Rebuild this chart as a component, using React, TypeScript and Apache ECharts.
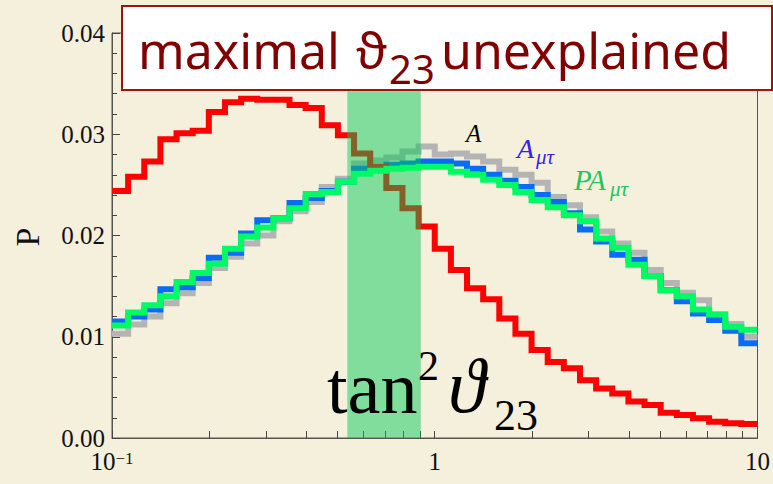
import React, { useEffect, useRef } from 'react';
import * as echarts from 'echarts';

// 40 logarithmic bins from 0.1 to 10 (0.05 decades each)
const binEdges: number[] = Array.from({ length: 41 }, (_, k) => Math.pow(10, -1 + k * 0.05));

const redP = [0.0244, 0.0258, 0.0273, 0.0295, 0.0301, 0.03035, 0.0322, 0.03315, 0.0335, 0.0334,
  0.0334, 0.0329, 0.0326, 0.0309, 0.0299, 0.0281, 0.0268, 0.0247, 0.0227, 0.0209,
  0.0187, 0.0166, 0.0148, 0.0137, 0.0118, 0.0103, 0.0087, 0.0075, 0.0069, 0.0057,
  0.0049, 0.0044, 0.0036, 0.00326, 0.0025, 0.00227, 0.00194, 0.0016, 0.00145, 0.00138];

const grayA = [0.0103, 0.0112, 0.0120, 0.0133, 0.0143, 0.0153, 0.0168, 0.0179, 0.0192, 0.0200,
  0.0214, 0.0224, 0.0233, 0.0248, 0.0256, 0.0271, 0.0274, 0.0277, 0.0283, 0.0288,
  0.0280, 0.0281, 0.0278, 0.0273, 0.0265, 0.0260, 0.0252, 0.0238, 0.0230, 0.0218,
  0.0204, 0.0192, 0.0183, 0.0166, 0.0153, 0.01435, 0.0136, 0.0122, 0.01126, 0.0100];

const blueAmt = [0.0115, 0.0120, 0.0127, 0.0147, 0.0149, 0.0158, 0.0178, 0.0183, 0.0202, 0.0215,
  0.0217, 0.0232, 0.0237, 0.0244, 0.0253, 0.0266, 0.0267, 0.0270, 0.0271, 0.0273,
  0.0273, 0.0271, 0.0266, 0.0260, 0.0254, 0.0248, 0.0240, 0.0233, 0.0222, 0.0206,
  0.0194, 0.0181, 0.0176, 0.0160, 0.0146, 0.0135, 0.0123, 0.01165, 0.0106, 0.00935];

const greenPAmt = [0.0111, 0.0124, 0.0131, 0.0140, 0.0154, 0.0163, 0.0172, 0.0187, 0.0199, 0.0208,
  0.0217, 0.0227, 0.0241, 0.0243, 0.0253, 0.0261, 0.0264, 0.0266, 0.0267, 0.0268,
  0.0268, 0.0263, 0.0260, 0.0255, 0.0250, 0.0243, 0.0235, 0.0228, 0.0220, 0.0214,
  0.0197, 0.0188, 0.0171, 0.0160, 0.0146, 0.0140, 0.0127, 0.0122, 0.0110, 0.0107];

const bandRange = [0.536, 0.905];
const xLabelValues = [0.1, 1, 10];
const xTickValues = [0.1, 0.2, 0.3, 0.4, 0.5, 0.6, 0.7, 0.8, 0.9, 1, 2, 3, 4, 5, 6, 7, 8, 9, 10];

const SERIF = '"Liberation Serif", "DejaVu Serif", serif';
const COMIC = '"Comic Sans MS", "Noto Sans", sans-serif';

const stepData = (vals: number[]) =>
  binEdges.map((e, i) => [e, vals[Math.min(i, vals.length - 1)]]);

export default function App() {
  const ref = useRef<HTMLDivElement>(null);
  useEffect(() => {
    if (!ref.current) return;
    const chart = echarts.init(ref.current, undefined, { renderer: 'svg' });
    const lineSeries = (name: string, vals: number[], color: string, z: number) => ({
      type: 'line',
      name,
      step: 'end',
      data: stepData(vals),
      symbol: 'none',
      z,
      lineStyle: { color, width: 6, cap: 'butt', join: 'miter' },
    });
    chart.setOption({
      animation: false,
      backgroundColor: '#f5f0dc',
      grid: {
        left: 112, right: 3, top: 33, bottom: 46,
        show: true, borderColor: '#555', borderWidth: 1, backgroundColor: 'transparent',
      },
      xAxis: {
        type: 'log', logBase: 10, min: 0.1, max: 10,
        axisLine: { show: true, lineStyle: { color: '#555', width: 1 } },
        axisTick: { show: true, inside: true, length: 7, customValues: xTickValues, lineStyle: { color: '#444' } },
        splitLine: { show: false },
        minorTick: { show: false },
        axisLabel: {
          customValues: xLabelValues,
          margin: 12,
          color: '#111',
          fontFamily: SERIF,
          fontSize: 25,
          lineHeight: 22,
          alignMinLabel: 'center',
          alignMaxLabel: 'center',
          formatter: (v: number) => {
            const e = Math.round(Math.log10(v));
            if (e === 0) return '{b|1}';
            if (e === 1) return '{b|10}';
            return '{b|10}{s|\u22121}';
          },
          rich: {
            b: { fontFamily: SERIF, fontSize: 25, color: '#111', lineHeight: 22 },
            s: { fontFamily: SERIF, fontSize: 17, color: '#111', lineHeight: 14, verticalAlign: 'top' },
          },
        },
      },
      yAxis: {
        type: 'value', min: 0, max: 0.04, interval: 0.01,
        axisLine: { show: true, lineStyle: { color: '#555', width: 1 } },
        axisTick: { show: true, inside: true, length: 8, lineStyle: { color: '#444' } },
        minorTick: { show: true, splitNumber: 5, length: 5, lineStyle: { color: '#444' } },
        splitLine: { show: false },
        axisLabel: {
          margin: 7, color: '#111', fontFamily: SERIF, fontSize: 25, lineHeight: 18,
          formatter: (v: number) => v.toFixed(2),
        },
      },
      series: [
        lineSeries('A', grayA, '#b4b4b4', 2),
        lineSeries('Aμτ', blueAmt, '#0a6cf5', 2),
        lineSeries('red', redP, '#ff0000', 2),
        {
          type: 'line',
          name: 'band',
          data: [[bandRange[0], 0], [bandRange[1], 0]],
          symbol: 'none',
          lineStyle: { opacity: 0, width: 0 },
          z: 3,
          markArea: {
            silent: true,
            z: 3,
            itemStyle: { color: 'rgba(0,200,83,0.48)' },
            data: [[{ xAxis: bandRange[0] }, { xAxis: bandRange[1] }]],
          },
        },
        lineSeries('PAμτ', greenPAmt, '#00fa64', 4),
      ],
      graphic: [
        {
          type: 'rect', z: 100,
          shape: { x: 122, y: 6, width: 650, height: 84 },
          style: { fill: '#ffffff', stroke: '#a0140a', lineWidth: 2 },
        },
        { type: 'text', z: 101, x: 138, y: 50, style: { text: 'maximal', fontFamily: COMIC, fontSize: 50, fill: '#800000', align: 'left', verticalAlign: 'middle' } },
        { type: 'text', z: 101, x: 356, y: 50, style: { text: '\u03D1', fontFamily: COMIC, fontSize: 50, fill: '#800000', align: 'left', verticalAlign: 'middle' } },
        { type: 'text', z: 101, x: 389, y: 68, style: { text: '23', fontFamily: COMIC, fontSize: 40, fill: '#800000', align: 'left', verticalAlign: 'middle' } },
        { type: 'text', z: 101, x: 441, y: 50, style: { text: 'unexplained', fontFamily: COMIC, fontSize: 50, fill: '#800000', align: 'left', verticalAlign: 'middle' } },

        { type: 'text', z: 101, x: 466, y: 133, style: { text: 'A', fontFamily: SERIF, fontStyle: 'italic', fontSize: 25, fill: '#000', align: 'left', verticalAlign: 'middle' } },
        { type: 'text', z: 101, x: 517, y: 148, style: { text: 'A', fontFamily: SERIF, fontStyle: 'italic', fontSize: 28, fill: '#3c1ee6', align: 'left', verticalAlign: 'middle' } },
        { type: 'text', z: 101, x: 536, y: 157, style: { text: '\u03BC\u03C4', fontFamily: SERIF, fontStyle: 'italic', fontSize: 21, fill: '#3c1ee6', align: 'left', verticalAlign: 'middle' } },
        { type: 'text', z: 101, x: 574, y: 180, style: { text: 'PA', fontFamily: SERIF, fontStyle: 'italic', fontSize: 29, fill: '#1ec45e', align: 'left', verticalAlign: 'middle' } },
        { type: 'text', z: 101, x: 610, y: 189, style: { text: '\u03BC\u03C4', fontFamily: SERIF, fontStyle: 'italic', fontSize: 21, fill: '#1ec45e', align: 'left', verticalAlign: 'middle' } },

        { type: 'text', z: 101, x: 327, y: 388, style: { text: 'tan', fontFamily: SERIF, fontSize: 74, fill: '#000', align: 'left', verticalAlign: 'middle' } },
        { type: 'text', z: 101, x: 418, y: 366, style: { text: '2', fontFamily: SERIF, fontSize: 42, fill: '#000', align: 'left', verticalAlign: 'middle' } },
        { type: 'text', z: 101, x: 448, y: 386, style: { text: '\u03D1', fontFamily: SERIF, fontStyle: 'italic', fontSize: 76, fill: '#000', align: 'left', verticalAlign: 'middle' } },
        { type: 'text', z: 101, x: 494, y: 415, style: { text: '23', fontFamily: SERIF, fontSize: 44, fill: '#000', align: 'left', verticalAlign: 'middle' } },

        { type: 'text', z: 101, x: 27, y: 237, rotation: Math.PI / 2, style: { text: 'P', fontFamily: SERIF, fontSize: 34, fill: '#111', align: 'center', verticalAlign: 'middle' } },
      ],
    });
    return () => chart.dispose();
  }, []);
  return (
    <div
      ref={ref}
      style={{ position: 'fixed', left: 0, top: 0, width: 773, height: 484 }}
    />
  );
}
